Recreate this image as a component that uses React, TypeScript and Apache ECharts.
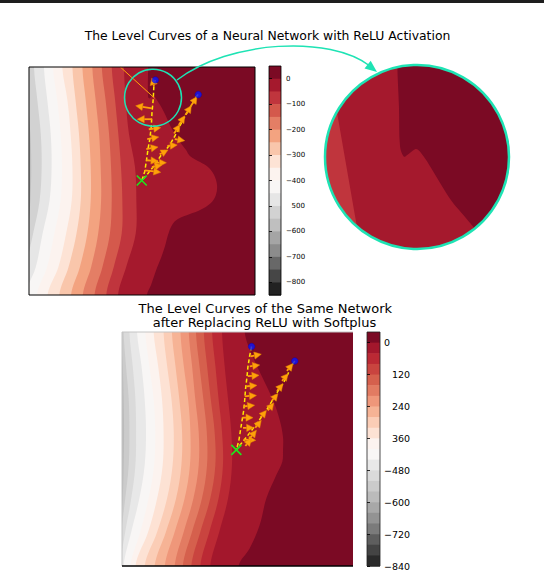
import React, { useEffect, useRef } from "react";
import * as echarts from "echarts";

// ---------------- texts ----------------
const TITLE_TOP = "The Level Curves of a Neural Network with ReLU Activation";
const TITLE_BOTTOM_1 = "The Level Curves of the Same Network";
const TITLE_BOTTOM_2 = "after Replacing ReLU with Softplus";

// ---------------- colour bar 1 (ReLU network) ----------------
const reluLevels = [50, 0, -50, -100, -150, -200, -250, -300, -350, -400, -450, -500, -550, -600, -650, -700, -750, -800, -850];
const reluColors = ["#7b0a24", "#a5192d", "#c0353d", "#d4594c", "#e47e65", "#f3a380", "#f9c6ab", "#fde3d5", "#fcf3ef", "#f8f6f5", "#e6e6e6", "#d2d2d2", "#bfbfbf", "#a5a5a5", "#8c8c8c", "#686868", "#464646", "#222222"];
const reluTickValues = [0, -100, -200, -300, -400, -500, -600, -700, -800];
const reluTickLabels = ["0", "\u2212100", "\u2212200", "\u2212300", "\u2212400", "500", "\u2212600", "\u2212700", "\u2212800"];

// ---------------- colour bar 2 (Softplus network) ----------------
const softLevels = [40, 0, -40, -80, -120, -160, -200, -240, -280, -320, -360, -400, -440, -480, -520, -560, -600, -640, -680, -720, -760, -800, -840];
const softColors = ["#7b0a24", "#a3172c", "#bb2934", "#c9443f", "#d5604d", "#e27b62", "#ef977a", "#f6b395", "#fbcdb6", "#fde2d4", "#fcf3ef", "#f8f6f5", "#e8e8e8", "#dadada", "#cbcbcb", "#bbbbbb", "#a8a8a8", "#939393", "#7b7b7b", "#5e5e5e", "#444444", "#2a2a2a"];
const softTickValues = [0, -120, -240, -360, -480, -600, -720, -840];
const softTickLabels = ["0", "120", "240", "360", "\u2212480", "\u2212600", "\u2212720", "\u2212840"];

// ---------------- ReLU level curves (x of each contour edge at the sampled rows, 0-100 units, y from top) ----------------
const reluRows = [0, 14.6, 29.2, 43.9, 58.5, 73.1, 87.7, 100];
const reluEdge1X = [52.7, 52.7, 53.5, 54.9, 56.6, 59.7, 62.8, 66.8, 69.5, 71.2, 75.7, 79.2, 81.9, 83.2, 82.7, 80.5, 75.7, 71.2, 65.9, 63.3, 61.5, 60.2, 58.4, 56.6, 54.0, 52.2];
const reluEdge1Y = [0, 13.2, 13.8, 12.5, 14.5, 19.7, 26.3, 32.9, 36.4, 39.0, 41.7, 43.9, 47.4, 51.8, 56.1, 59.6, 62.7, 64.5, 66.7, 69.3, 73.7, 78.5, 83.8, 88.2, 95.6, 100];
const reluEdge2 = [42.0, 42.8, 44.2, 46.9, 47.5, 47.2, 43.0, 39.4];
const reluEdge3 = [36.6, 38.1, 39.5, 40.7, 41.3, 41.0, 37.5, 34.2];
const reluEdge4 = [32.2, 33.9, 35.4, 36.3, 36.6, 35.8, 32.5, 29.0];
const reluEdge5 = [28.0, 29.5, 31.0, 31.7, 31.9, 30.6, 27.5, 23.8];
const reluEdge6 = [23.6, 25.1, 26.5, 27.3, 27.3, 25.8, 22.5, 18.6];
const reluEdge7 = [19.2, 20.6, 22.1, 22.9, 22.9, 21.0, 17.5, 13.4];
const reluEdge8 = [14.7, 17.0, 18.4, 19.2, 18.9, 16.4, 13.0, 8.2];
const reluEdge9 = [10.6, 12.5, 14.0, 14.6, 14.0, 11.2, 8.0, 3.5];
const reluEdge10 = [6.6, 8.1, 9.6, 10.0, 9.1, 6.0, 3.0, -1.5];
const reluEdge11 = [2.2, 3.7, 5.2, 5.6, 4.7, 1.8, -1.5, -4.4];
const reluEdge12 = [-1.0, -0.5, 0.6, 1.0, 0.6, -0.5, -1.5, -2.0];

// ReLU trajectories
const reluPath1X = [55.9, 55.3, 55.0, 54.4, 54.1, 53.4, 52.7, 51.9, 51.2, 49.9];
const reluPath1Y = [5.7, 7.1, 13.7, 20.3, 26.2, 32.0, 35.7, 41.5, 45.9, 49.8];
const reluPath2X = [74.9, 74.0, 71.1, 68.1, 65.2, 62.3, 58.5, 55.6, 52.7, 49.9];
const reluPath2Y = [12.1, 13.0, 18.1, 23.2, 29.1, 34.2, 38.6, 43.0, 46.6, 49.8];
const reluStrayX = [40.4, 55.6];
const reluStrayY = [0, 13.7];
// arrows: tail x, tail y, head x, head y
const reluArrows = [
  [55.3, 8.3, 54.4, 4.8],
  [54.4, 18.1, 47.2, 17.0],
  [54.4, 22.9, 47.9, 22.9],
  [53.0, 27.3, 58.3, 26.6],
  [52.3, 31.6, 57.4, 30.7],
  [51.9, 36.0, 57.1, 35.1],
  [51.9, 40.9, 57.1, 41.2],
  [55.6, 42.0, 60.8, 42.0],
  [51.2, 45.3, 58.3, 46.2],
  [71.7, 17.0, 74.3, 13.0],
  [69.2, 21.0, 71.8, 17.0],
  [66.3, 25.4, 68.9, 21.4],
  [64.2, 29.2, 66.8, 25.2],
  [64.5, 31.6, 68.9, 32.3],
  [61.2, 34.6, 65.6, 34.2],
  [57.8, 38.3, 61.5, 36.4],
  [54.4, 43.9, 58.8, 43.0],
];

// ---------------- magnified inset (0-100 units of the inset square) ----------------
const insetEdge1X = [39.3, 40.2, 40.8, 42.9, 44.7, 48.9, 50.7, 54.3, 58.9, 64.3, 69.7, 75.2, 80.6, 86.0, 91.3];
const insetEdge1Y = [0, 22.7, 44.4, 49.8, 48.9, 45.8, 46.2, 50.7, 58.0, 67.0, 75.2, 81.5, 87.9, 94.2, 100];
const insetEdge2X = [2.0, 6.3, 17.2, 19.5];
const insetEdge2Y = [0, 24.5, 87.0, 100];

// ---------------- Softplus level curves ----------------
const softRows = [0, 14.2, 28.5, 42.7, 57.0, 71.2, 85.5, 100];
const softEdge1X = [53.1, 56.7, 61.0, 65.4, 68.3, 69.7, 69.7, 69.4, 66.8, 62.5, 59.6, 55.3, 50.5];
const softEdge1Y = [0, 10.7, 19.9, 29.2, 37.7, 44.9, 50.6, 55.4, 61.1, 71.1, 82.5, 92.4, 100];
const softEdge2 = [43.3, 44.4, 45.9, 47.3, 47.6, 45.9, 42.1, 38.2];
const softEdge3 = [39.0, 40.4, 41.8, 43.3, 43.7, 41.8, 37.8, 33.9];
const softEdge4 = [35.4, 36.8, 38.4, 40.1, 40.4, 38.2, 33.9, 30.0];
const softEdge5 = [32.0, 33.5, 35.2, 36.7, 36.8, 34.6, 30.3, 26.3];
const softEdge6 = [28.9, 30.3, 31.7, 33.2, 33.2, 30.9, 26.7, 22.8];
const softEdge7 = [25.3, 26.7, 28.6, 29.6, 29.4, 27.1, 22.8, 18.5];
const softEdge8 = [21.6, 23.1, 24.8, 26.0, 25.7, 23.4, 19.0, 14.1];
const softEdge9 = [18.0, 19.5, 21.4, 22.4, 21.9, 19.5, 15.2, 9.8];
const softEdge10 = [13.7, 15.6, 17.3, 18.0, 17.6, 15.2, 11.3, 5.8];
const softEdge11 = [10.1, 11.8, 13.7, 14.4, 13.9, 11.5, 7.9, 3.6];
const softEdge12 = [6.5, 8.4, 9.8, 10.4, 9.8, 7.5, 4.0, 0.7];
const softEdge13 = [3.2, 4.6, 5.8, 6.1, 5.8, 4.0, 1.4, -0.7];
const softEdge14 = [0.7, 1.7, 2.9, 3.2, 2.9, 1.4, -0.3, -1.4];
const softEdge15 = [-0.7, 0.3, 0.7, 0.9, 0.7, 0.3, -0.7, -1.4];

// Softplus trajectories
const softPath1X = [56.1, 55.3, 54.5, 54.1, 53.5, 53.1, 52.7, 52.1, 51.4, 50.6, 49.5];
const softPath1Y = [6.2, 10.0, 15.0, 19.2, 24.2, 29.2, 33.5, 37.0, 41.3, 46.3, 50.4];
const softPath2X = [74.8, 74.0, 71.9, 69.7, 66.8, 64.7, 62.5, 59.6, 56.7, 53.9, 51.0, 49.5];
const softPath2Y = [12.4, 13.5, 17.8, 22.1, 26.3, 29.9, 33.5, 37.4, 41.3, 44.9, 48.4, 50.4];
const softArrows = [
  [55.6, 10.4, 60.3, 9.5],
  [55.3, 14.7, 59.6, 14.1],
  [54.5, 18.9, 59.3, 18.5],
  [53.9, 23.2, 58.4, 22.8],
  [53.1, 27.5, 58.2, 27.1],
  [52.7, 31.8, 57.4, 31.3],
  [52.1, 36.6, 56.7, 36.6],
  [52.4, 41.0, 57.0, 40.9],
  [52.7, 46.0, 57.9, 46.3],
  [71.4, 16.6, 74.0, 13.5],
  [69.3, 20.9, 71.9, 17.8],
  [67.1, 25.2, 69.7, 22.1],
  [64.9, 29.4, 67.5, 26.3],
  [63.1, 33.5, 65.7, 30.3],
  [59.9, 36.6, 62.5, 33.5],
  [57.7, 40.9, 60.3, 37.7],
  [55.6, 45.1, 58.2, 42.0],
  [53.4, 48.7, 56.0, 45.6],
];

// ---------------- styling constants ----------------
const TEAL = "#1ee3b4";
const ORANGE = "#ffa10a";
const YELLOW = "#ffe800";
const FONT = "DejaVu Sans";

type Bound = { xs: number[]; ys: number[] };

const zip = (xs: number[], ys: number[]) => xs.map((x, i) => [x, ys[i]]);

function contourSeries(gi: number, bounds: Bound[], colors: string[], z = 1) {
  const nB = bounds.length;
  const data = Array.from({ length: nB + 1 }, () => [50, 50]);
  return {
    type: "custom",
    xAxisIndex: gi,
    yAxisIndex: gi,
    clip: true,
    silent: true,
    z,
    data,
    renderItem: (params: any, api: any) => {
      const i = params.dataIndex;
      const cs = params.coordSys;
      if (i === 0) {
        return {
          type: "rect",
          shape: { x: cs.x, y: cs.y, width: cs.width, height: cs.height },
          style: { fill: colors[nB] },
        };
      }
      const k = nB - i;
      const b = bounds[k];
      const n = b.xs.length;
      const pts: number[][] = [];
      pts.push(api.coord([170, -60]));
      pts.push(api.coord([b.xs[0], -60]));
      pts.push(api.coord([b.xs[0], -20]));
      for (let j = 0; j < n; j++) pts.push(api.coord([b.xs[j], b.ys[j]]));
      pts.push(api.coord([b.xs[n - 1], 120]));
      pts.push(api.coord([b.xs[n - 1], 160]));
      pts.push(api.coord([170, 160]));
      return {
        type: "polygon",
        shape: { points: pts, smooth: 0.35 },
        style: { fill: colors[k] },
      };
    },
  };
}

function colorbarSeries(gi: number, levels: number[], colors: string[]) {
  const data = colors.map((_c, i) => [levels[i + 1], levels[i]]);
  return {
    type: "custom",
    xAxisIndex: gi,
    yAxisIndex: gi,
    silent: true,
    data,
    encode: { y: [0, 1] },
    renderItem: (params: any, api: any) => {
      const lo = api.coord([0, api.value(0)]);
      const hi = api.coord([1, api.value(1)]);
      return {
        type: "rect",
        shape: { x: lo[0], y: hi[1], width: hi[0] - lo[0], height: lo[1] - hi[1] + 0.6 },
        style: { fill: colors[params.dataIndex] },
      };
    },
  };
}

function arrowSeries(gi: number, arrows: number[][]) {
  return {
    type: "custom",
    xAxisIndex: gi,
    yAxisIndex: gi,
    clip: true,
    silent: true,
    z: 4,
    data: arrows,
    encode: { x: [0, 2], y: [1, 3] },
    renderItem: (_params: any, api: any) => {
      const t = api.coord([api.value(0), api.value(1)]);
      const h = api.coord([api.value(2), api.value(3)]);
      const dx = h[0] - t[0];
      const dy = h[1] - t[1];
      const len = Math.hypot(dx, dy) || 1;
      const ux = dx / len;
      const uy = dy / len;
      const HL = 7;
      const HW = 3.6;
      const bx = h[0] - ux * HL;
      const by = h[1] - uy * HL;
      const children: any[] = [];
      if (len > HL) {
        children.push({
          type: "line",
          shape: { x1: t[0], y1: t[1], x2: bx, y2: by },
          style: { stroke: ORANGE, lineWidth: 1.8 },
        });
      }
      children.push({
        type: "polygon",
        shape: {
          points: [
            [h[0], h[1]],
            [bx - uy * HW, by + ux * HW],
            [bx + uy * HW, by - ux * HW],
          ],
        },
        style: { fill: ORANGE, stroke: "#e68a00", lineWidth: 0.5 },
      });
      return { type: "group", children };
    },
  };
}

function crossSeries(gi: number, x: number, y: number) {
  return {
    type: "custom",
    xAxisIndex: gi,
    yAxisIndex: gi,
    silent: true,
    z: 6,
    data: [[x, y]],
    renderItem: (_p: any, api: any) => {
      const c = api.coord([api.value(0), api.value(1)]);
      const s = 5;
      return {
        type: "group",
        children: [
          { type: "line", shape: { x1: c[0] - s, y1: c[1] - s, x2: c[0] + s, y2: c[1] + s }, style: { stroke: "#1ee61e", lineWidth: 1.6 } },
          { type: "line", shape: { x1: c[0] - s, y1: c[1] + s, x2: c[0] + s, y2: c[1] - s }, style: { stroke: "#1ee61e", lineWidth: 1.6 } },
        ],
      };
    },
  };
}

function pathSeries(gi: number, xs: number[], ys: number[]) {
  return {
    type: "line",
    xAxisIndex: gi,
    yAxisIndex: gi,
    data: zip(xs, ys),
    symbol: "none",
    clip: true,
    silent: true,
    z: 3,
    lineStyle: { color: YELLOW, width: 1.5, type: [4, 2.5] },
  };
}

function startSeries(gi: number, pts: number[][]) {
  return {
    type: "scatter",
    xAxisIndex: gi,
    yAxisIndex: gi,
    data: pts,
    symbol: "circle",
    symbolSize: 6.5,
    silent: true,
    z: 6,
    itemStyle: { color: "#0a14ff", borderColor: "#0000cc", borderWidth: 0.5 },
  };
}

function cbAxis(gi: number, min: number, max: number, values: number[], labels: string[], fontSize: number, pad: number, margin: number) {
  return {
    gridIndex: gi,
    type: "value",
    min,
    max,
    position: "right",
    z: 10,
    axisLine: { show: false },
    splitLine: { show: false },
    axisTick: { show: true, length: 3, lineStyle: { color: "#000", width: 0.8 }, customValues: values },
    axisLabel: {
      customValues: values,
      margin,
      color: "#000",
      fontSize,
      fontFamily: FONT,
      formatter: (v: number) => {
        const idx = values.indexOf(v);
        const s = idx >= 0 ? labels[idx] : "";
        if (s !== "0" && s.charAt(0) !== "\u2212") return "{p|" + s + "}";
        return s;
      },
      rich: { p: { padding: [0, 0, 0, pad], fontSize, fontFamily: FONT, color: "#000" } },
    },
  };
}

export default function App() {
  const ref = useRef<HTMLDivElement>(null);

  useEffect(() => {
    if (!ref.current) return;
    const chart = echarts.init(ref.current, null, { renderer: "svg" });

    const reluEdges = [reluEdge2, reluEdge3, reluEdge4, reluEdge5, reluEdge6, reluEdge7, reluEdge8, reluEdge9, reluEdge10, reluEdge11, reluEdge12];
    const reluBounds: Bound[] = [{ xs: reluEdge1X, ys: reluEdge1Y }, ...reluEdges.map((xs) => ({ xs, ys: reluRows }))];
    const softEdges = [softEdge2, softEdge3, softEdge4, softEdge5, softEdge6, softEdge7, softEdge8, softEdge9, softEdge10, softEdge11, softEdge12, softEdge13, softEdge14, softEdge15];
    const softBounds: Bound[] = [{ xs: softEdge1X, ys: softEdge1Y }, ...softEdges.map((xs) => ({ xs, ys: softRows }))];
    const insetBounds: Bound[] = [
      { xs: insetEdge1X, ys: insetEdge1Y },
      { xs: insetEdge2X, ys: insetEdge2Y },
    ];

    const plotX = (gi: number) => ({ gridIndex: gi, type: "value", min: 0, max: 100, show: false });
    const plotY = (gi: number) => ({ gridIndex: gi, type: "value", min: 0, max: 100, inverse: true, show: false });
    const cbX = (gi: number) => ({ gridIndex: gi, type: "value", min: 0, max: 1, show: false });

    const g = (left: number, top: number, width: number, height: number) => ({
      left, top, width, height, containLabel: false, outerBoundsMode: "none",
    });

    const option: any = {
      animation: false,
      backgroundColor: "#ffffff",
      grid: [
        g(29, 67, 226, 228),
        g(122, 332, 231, 234),
        g(325, 65, 184, 184),
        g(269, 66, 12, 229),
        g(367, 332, 13, 234),
      ],
      xAxis: [plotX(0), plotX(1), plotX(2), cbX(3), cbX(4)],
      yAxis: [
        plotY(0),
        plotY(1),
        plotY(2),
        cbAxis(3, -850, 50, reluTickValues, reluTickLabels, 7, 5.5, 5),
        cbAxis(4, -840, 40, softTickValues, softTickLabels, 9.5, 8, 4),
      ],
      series: [
        contourSeries(0, reluBounds, reluColors),
        pathSeries(0, reluPath1X, reluPath1Y),
        pathSeries(0, reluPath2X, reluPath2Y),
        {
          type: "line",
          xAxisIndex: 0,
          yAxisIndex: 0,
          data: zip(reluStrayX, reluStrayY),
          symbol: "none",
          silent: true,
          clip: true,
          z: 3,
          lineStyle: { color: ORANGE, width: 1 },
        },
        arrowSeries(0, reluArrows),
        startSeries(0, [[reluPath1X[0], reluPath1Y[0]], [reluPath2X[0], reluPath2Y[0]]]),
        crossSeries(0, reluPath1X[reluPath1X.length - 1], reluPath1Y[reluPath1Y.length - 1]),

        contourSeries(1, softBounds, softColors),
        pathSeries(1, softPath1X, softPath1Y),
        pathSeries(1, softPath2X, softPath2Y),
        arrowSeries(1, softArrows),
        startSeries(1, [[softPath1X[0], softPath1Y[0]], [softPath2X[0], softPath2Y[0]]]),
        crossSeries(1, softPath1X[softPath1X.length - 1], softPath1Y[softPath1Y.length - 1]),

        contourSeries(2, insetBounds, reluColors.slice(0, 3), 1),

        colorbarSeries(3, reluLevels, reluColors),
        colorbarSeries(4, softLevels, softColors),
      ],
      graphic: [
        { type: "rect", shape: { x: 0, y: 0, width: 544, height: 3 }, style: { fill: "#1e1e1e" }, z: 10 },
        {
          type: "text", x: 267.5, y: 35, z: 10,
          style: { text: TITLE_TOP, font: `12.4px "${FONT}"`, fill: "#000", align: "center", verticalAlign: "middle", textAlign: "center", textVerticalAlign: "middle" },
        },
        {
          type: "text", x: 265.3, y: 308.3, z: 10,
          style: { text: TITLE_BOTTOM_1, font: `13px "${FONT}"`, fill: "#000", align: "center", verticalAlign: "middle", textAlign: "center", textVerticalAlign: "middle" },
        },
        {
          type: "text", x: 264.5, y: 322.3, z: 10,
          style: { text: TITLE_BOTTOM_2, font: `13px "${FONT}"`, fill: "#000", align: "center", verticalAlign: "middle", textAlign: "center", textVerticalAlign: "middle" },
        },
        // plot frames
        { type: "rect", shape: { x: 29, y: 67, width: 226, height: 228 }, style: { fill: "none", stroke: "#000", lineWidth: 1 }, z: 10 },
        { type: "line", shape: { x1: 122, y1: 332, x2: 353, y2: 332 }, style: { stroke: "#c4c4c4", lineWidth: 1 }, z: 10 },
        { type: "line", shape: { x1: 122, y1: 332, x2: 122, y2: 566 }, style: { stroke: "#c4c4c4", lineWidth: 1 }, z: 10 },
        { type: "line", shape: { x1: 122, y1: 566, x2: 353, y2: 566 }, style: { stroke: "#000", lineWidth: 1.5 }, z: 10 },
        { type: "rect", shape: { x: 269, y: 66, width: 12, height: 229 }, style: { fill: "none", stroke: "#000", lineWidth: 0.8 }, z: 10 },
        { type: "rect", shape: { x: 367, y: 332, width: 13, height: 234 }, style: { fill: "none", stroke: "#222", lineWidth: 0.8 }, z: 10 },
        // magnifier
        { type: "ring", shape: { cx: 417, cy: 157, r: 134, r0: 92 }, style: { fill: "#ffffff" }, z: 5 },
        { type: "circle", shape: { cx: 417, cy: 157, r: 92 }, style: { fill: "none", stroke: TEAL, lineWidth: 2.5 }, z: 10 },
        { type: "circle", shape: { cx: 153, cy: 97.7, r: 28.5 }, style: { fill: "none", stroke: TEAL, lineWidth: 1.5 }, z: 10 },
        {
          type: "bezierCurve",
          shape: { x1: 177, y1: 80, cpx1: 230, cpy1: 40, cpx2: 330, cpy2: 35, x2: 370, y2: 66 },
          style: { fill: "none", stroke: TEAL, lineWidth: 1.5 },
          z: 10,
        },
        {
          type: "polygon",
          shape: { points: [[377, 72], [364.5, 68.5], [370.7, 60.7]] },
          style: { fill: TEAL },
          z: 10,
        },
      ],
    };

    chart.setOption(option);
    return () => chart.dispose();
  }, []);

  return <div ref={ref} style={{ position: "fixed", left: 0, top: 0, width: 544, height: 570, background: "#fff" }} />;
}
